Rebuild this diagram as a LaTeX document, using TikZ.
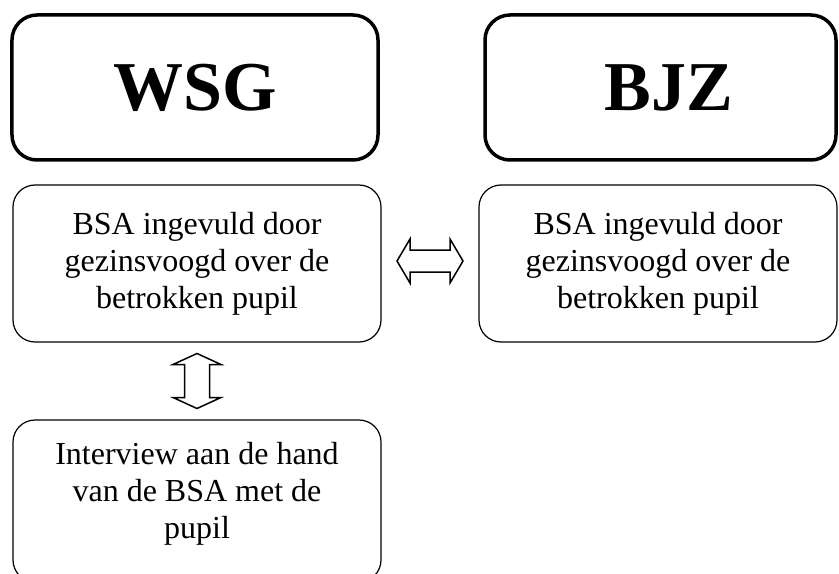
\documentclass[tikz,border=0pt]{standalone}
\usepackage{fontspec}
\setmainfont{Liberation Serif}
\usepackage{tikz}
\usetikzlibrary{calc}
\tikzstyle{headbox}=[draw, line width=3.5bp, rounded corners=25bp, inner sep=0pt, font=\fontsize{70bp}{70bp}\selectfont\bfseries]
\tikzstyle{infobox}=[draw, line width=1.2bp, rounded corners=22bp, inner sep=0pt, align=center, font=\fontsize{32bp}{37bp}\selectfont]
\tikzstyle{blockarrow}=[draw, line width=1.5bp, line join=miter, fill=white]
\newcommand{\blockarrowlr}[1]{
\draw[blockarrow] ($(#1)+(-33,0)$) -- ++(13,-22) -- ++(0,11) -- ++(40,0) -- ++(0,-11) -- ++(13,22)
	-- ++(-13,22) -- ++(0,-11) -- ++(-40,0) -- ++(0,11) -- cycle;
}
\newcommand{\blockarrowud}[1]{
\draw[blockarrow] ($(#1)+(0,-27.5)$) -- ++(24,11) -- ++(-11.5,0) -- ++(0,33) -- ++(11.5,0) -- ++(-24,11)
	-- ++(-24,-11) -- ++(11.5,0) -- ++(0,-33) -- ++(-11.5,0) -- cycle;
}

\begin{document}
\begin{tikzpicture}[x=1bp, y=-1bp]
\useasboundingbox (0,0) rectangle (839,574);
\clip (0,0) rectangle (839,574);
% titles
\node[headbox, minimum width=366bp, minimum height=145bp] (wsg) at (195,87.5) {WSG};
\node[headbox, minimum width=351bp, minimum height=145bp] (bjz) at (660.5,87.5) {\hspace*{16bp}BJZ};
% boxes
\node[infobox, minimum width=368bp, minimum height=157bp] (bsaL) at (197,263.5)
	{BSA ingevuld door\\gezinsvoogd over de\\betrokken pupil};
\node[infobox, minimum width=358bp, minimum height=157bp] (bsaR) at (658,263.5)
	{BSA ingevuld door\\gezinsvoogd over de\\betrokken pupil};
\node[infobox, minimum width=368bp, minimum height=162bp, text depth=22bp] (interview) at (197,501)
	{Interview aan de hand\\van de BSA met de\\pupil};
% arrows
\coordinate (lr) at ($(bsaL.east)!.5!(bsaR.west)+(0,-2.5)$);
\coordinate (ud) at ($(bsaL.south)!.5!(interview.north)$);
\blockarrowlr{lr}
\blockarrowud{ud}
\end{tikzpicture}
\end{document}
